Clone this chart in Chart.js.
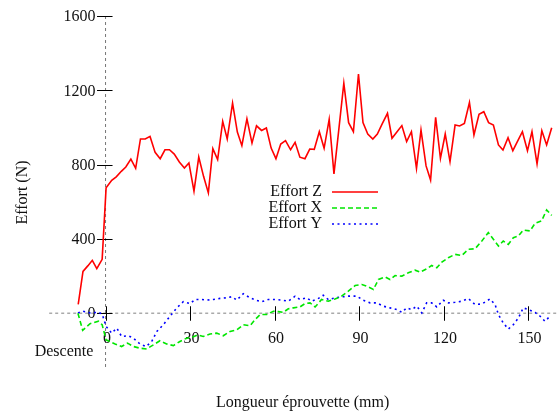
<!DOCTYPE html>
<html>
<head>
<meta charset="utf-8">
<script src="https://cdn.jsdelivr.net/npm/chart.js@4/dist/chart.umd.min.js"></script>
<style>
  html, body { margin: 0; padding: 0; background: #fff; }
  #wrap { width: 558px; height: 412px; position: relative; }
</style>
</head>
<body>
<div id="wrap"><canvas id="chart"></canvas></div>
<script>
// Effort Z (N) vs longueur (mm)
const distZ = [-9.7, -8.0, -6.3, -4.7, -3.1, -1.2, 0.2, 2.2, 3.8, 5.6, 7.2, 9.0, 10.7, 12.4, 14.1, 15.8, 17.6, 19.4, 21.1, 22.7,
  24.4, 26.2, 28.0, 29.6, 31.4, 33.1, 34.8, 36.5, 38.1, 39.8, 41.6, 43.2, 45.1, 46.8, 48.4, 50.2, 52.0, 53.6, 55.4, 57.1,
  58.8, 60.5, 62.2, 63.9, 65.7, 67.3, 69.0, 70.8, 72.5, 74.1, 75.9, 77.6, 79.4, 81.1, 82.8, 84.6, 86.3, 88.0, 89.8, 91.4,
  93.1, 94.9, 96.5, 98.3, 100.1, 101.7, 103.5, 105.2, 106.9, 108.6, 110.4, 112.0, 113.8, 115.4, 117.2, 118.9, 120.6, 122.3, 124.1, 125.7,
  127.4, 129.2, 130.8, 132.6, 134.3, 136.0, 137.7, 139.5, 141.1, 142.9, 144.6, 146.3, 148.0, 149.8, 151.4, 153.2, 154.9, 156.6, 158.4];
const effortZ = [48, 225, 255, 285, 240, 290, 675, 716, 734, 764, 787, 830, 780, 938, 938, 952, 866, 832, 880, 880,
  857, 814, 782, 809, 657, 841, 737, 648, 886, 827, 1033, 938, 1131, 975, 902, 1047, 916, 1009, 984, 997,
  889, 832, 911, 929, 880, 920, 840, 832, 884, 882, 977, 888, 1044, 750, 986, 1238, 1026, 977, 1288, 1026,
  965, 938, 965, 1022, 1076, 942, 977, 1010, 924, 977, 780, 986, 793, 717, 1055, 834, 965, 816, 1013, 1008,
  1022, 1134, 960, 1071, 1085, 1026, 1013, 906, 879, 945, 875, 927, 977, 875, 977, 804, 983, 906, 999];

// Effort X
const distX = [-9.8, -8.1, -5.5, -2.5, -1.2, 0.2, 3.4, 5.7, 7.8, 9.9, 12.2, 14.6, 17.0, 19.3, 21.7, 24.1, 26.4, 28.8, 30.6, 32.7,
  34.7, 37.1, 39.5, 41.8, 44.2, 46.6, 48.9, 51.3, 53.1, 54.9, 57.2, 59.6, 61.4, 63.1, 64.9, 66.7, 69.0, 70.8, 72.6, 74.4,
  76.7, 79.1, 81.5, 83.8, 86.2, 88.6, 91.0, 93.3, 95.1, 96.9, 99.2, 101.0, 102.8, 105.2, 107.5, 109.9, 111.7, 114.0, 115.8, 117.6,
  119.4, 121.7, 124.1, 126.5, 128.8, 131.2, 133.6, 135.9, 137.7, 139.5, 141.2, 143.0, 144.8, 146.6, 148.3, 150.7, 152.5, 154.8, 156.6, 158.4];
const effortX = [0, -92, -56, -43, -62, -143, -165, -179, -161, -179, -188, -192, -170, -148, -165, -174, -152, -134, -130, -116,
  -125, -112, -107, -121, -98, -89, -62, -67, -34, -7, -7, 11, 9, 5, 24, 29, 34, 52, 56, 34,
  74, 65, 77, 92, 119, 149, 155, 142, 128, 182, 196, 182, 203, 200, 218, 232, 221, 239, 257, 245,
  275, 299, 317, 311, 344, 347, 389, 434, 398, 362, 389, 371, 407, 416, 448, 443, 484, 497, 556, 527];

// Effort Y
const distY = [-9.8, -8.1, -5.5, -2.5, -1.2, 0.2, 2.2, 4.0, 5.7, 8.1, 9.9, 12.2, 14.4, 16.4, 18.2, 20.5, 22.9, 25.3, 27.6, 30.0,
  31.8, 34.1, 35.9, 38.3, 40.6, 43.0, 44.8, 46.6, 48.9, 51.3, 53.7, 55.4, 57.8, 60.2, 62.5, 64.9, 67.3, 69.0, 71.4, 73.2,
  75.6, 77.3, 79.1, 81.5, 83.8, 86.2, 89.2, 91.5, 93.9, 96.3, 98.6, 101.0, 103.4, 105.2, 106.9, 108.7, 110.5, 112.3, 114.0, 115.8,
  117.6, 119.9, 121.7, 124.1, 126.5, 128.8, 131.2, 133.6, 136.5, 138.3, 139.5, 141.2, 143.0, 144.8, 146.6, 148.3, 150.1, 152.5, 154.3, 156.0, 157.8];
const effortY = [2, 11, 2, 5, -4, -71, -107, -80, -125, -121, -134, -165, -179, -152, -98, -62, -16, 29, 62, 52,
  74, 74, 71, 74, 80, 83, 89, 71, 105, 83, 69, 62, 74, 74, 71, 65, 92, 74, 83, 65,
  80, 97, 74, 83, 88, 92, 92, 70, 56, 56, 38, 29, 20, 5, 29, 20, 38, 2, 56, 56,
  34, 70, 56, 59, 65, 79, 47, 50, 77, 47, -7, -52, -85, -61, -25, 29, 20, 5, -16, -43, -16];

const xTicks = [0, 30, 60, 90, 120, 150];
const yTicks = [0, 400, 800, 1200, 1600];

const FONT = '16px "Liberation Serif", "Times New Roman", serif';
const TEXT = '#111';

const pts = (xs, ys) => xs.map((v, i) => ({ x: v, y: ys[i] }));

// gnuplot-like zero axes, ticks and labels drawn from the chart scales
const zeroAxes = {
  id: 'zeroAxes',
  beforeDatasetsDraw(chart) {
    const { ctx, chartArea: a, scales: { x, y } } = chart;
    const x0 = x.getPixelForValue(0);
    const y0 = y.getPixelForValue(0);
    ctx.save();
    ctx.strokeStyle = '#aaaaaa';
    ctx.lineWidth = 1.5;
    ctx.setLineDash([3, 3]);
    ctx.beginPath(); ctx.moveTo(a.left, y0); ctx.lineTo(a.right, y0); ctx.stroke();
    ctx.strokeStyle = '#777';
    ctx.lineWidth = 1;
    ctx.setLineDash([3, 3]);
    ctx.beginPath(); ctx.moveTo(x0, a.top); ctx.lineTo(x0, a.bottom); ctx.stroke();
    ctx.setLineDash([]);

    ctx.strokeStyle = '#000';
    ctx.beginPath();
    yTicks.forEach(v => {
      const py = Math.round(y.getPixelForValue(v)) + 0.5;
      ctx.moveTo(x0 - 8.5, py); ctx.lineTo(x0 + 7, py);
    });
    xTicks.forEach(v => {
      const px = Math.round(x.getPixelForValue(v)) + 0.5;
      ctx.moveTo(px, y0 - 7); ctx.lineTo(px, y0 + 7.5);
    });
    ctx.stroke();

    ctx.font = FONT;
    ctx.fillStyle = TEXT;
    ctx.textBaseline = 'middle';
    ctx.textAlign = 'right';
    yTicks.forEach(v => ctx.fillText(String(v), x0 - 10, y.getPixelForValue(v) + 1));
    ctx.textAlign = 'center';
    xTicks.forEach(v => ctx.fillText(String(v), x.getPixelForValue(v) + 1.5, y0 + 26));

    ctx.fillText('Descente', 64, 352);
    ctx.fillText('Longueur éprouvette (mm)', (a.left + a.right) / 2, 403);
    ctx.translate(23, (a.top + a.bottom) / 2);
    ctx.rotate(-Math.PI / 2);
    ctx.fillText('Effort (N)', 0, 0);
    ctx.restore();
  },
  afterDatasetsDraw(chart) {
    const { ctx } = chart;
    ctx.save();
    ctx.font = FONT;
    ctx.textBaseline = 'middle';
    chart.data.datasets.forEach((ds, i) => {
      const cy = 192 + i * 16;
      ctx.fillStyle = TEXT;
      ctx.textAlign = 'right';
      ctx.fillText(ds.label, 322, cy);
      ctx.strokeStyle = ds.borderColor;
      ctx.lineWidth = ds.borderWidth;
      ctx.setLineDash(ds.borderDash || []);
      ctx.beginPath(); ctx.moveTo(332, cy); ctx.lineTo(378, cy); ctx.stroke();
    });
    ctx.restore();
  }
};

new Chart(document.getElementById('chart'), {
  type: 'line',
  data: {
    datasets: [
      { label: 'Effort Z', data: pts(distZ, effortZ), borderColor: '#ff0000', borderWidth: 1.6 },
      { label: 'Effort X', data: pts(distX, effortX), borderColor: '#00e600', borderWidth: 1.6, borderDash: [5, 3] },
      { label: 'Effort Y', data: pts(distY, effortY), borderColor: '#0000ff', borderWidth: 1.6, borderDash: [2, 3.5] }
    ]
  },
  options: {
    responsive: true,
    maintainAspectRatio: false,
    animation: false,
    layout: { padding: { left: 49.2, right: 1.8, top: 16, bottom: 43 } },
    elements: { point: { radius: 0 }, line: { tension: 0, fill: false } },
    scales: {
      x: { type: 'linear', min: -20, max: 160, display: false },
      y: { type: 'linear', min: -300, max: 1600, display: false }
    },
    plugins: { legend: { display: false }, tooltip: { enabled: false } }
  },
  plugins: [zeroAxes]
});
</script>
</body>
</html>
